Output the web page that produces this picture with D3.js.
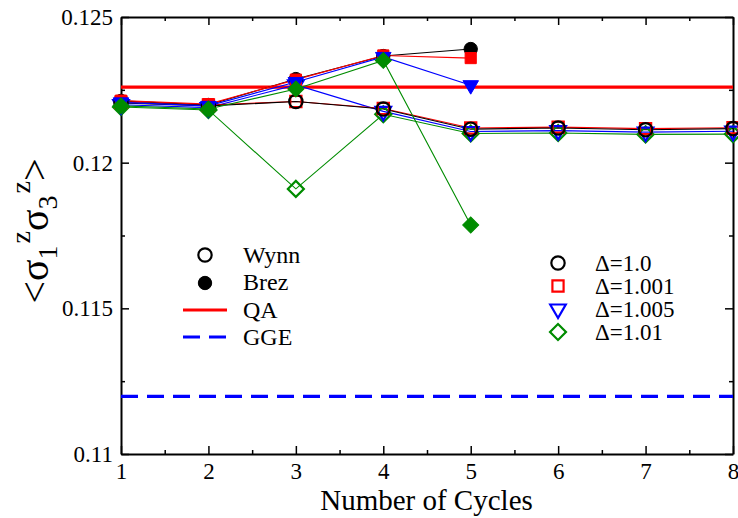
<!DOCTYPE html>
<html>
<head>
<meta charset="utf-8">
<script src="https://cdn.jsdelivr.net/npm/d3@7"></script>
<style>
  body { margin: 0; background: #fff; }
  svg text { font-family: "Liberation Serif", "LiberationSerif", "DejaVu Serif", "Noto Serif", "FreeSerif", "Times New Roman", Times, serif; }
</style>
</head>
<body>
<div class="chart"></div>
<script>
// cycles on the x axis
const cycles = [1, 2, 3, 4, 5, 6, 7, 8];
const brezCycles = [1, 2, 3, 4, 5];

// Wynn extrapolation (open symbols)
const wynn10   = [0.12205, 0.12195, 0.12210, 0.12184, 0.12115, 0.12119, 0.12113, 0.12117];
const wynn1001 = [0.12208, 0.12198, 0.12210, 0.12186, 0.12119, 0.12122, 0.12117, 0.12120];
const wynn1005 = [0.12199, 0.12189, 0.12267, 0.12176, 0.12107, 0.12110, 0.12105, 0.12108];
const wynn101  = [0.12191, 0.12181, 0.11910, 0.12166, 0.12100, 0.12102, 0.12097, 0.12098];

// Brezinski extrapolation (filled symbols)
const brez10   = [0.12212, 0.12198, 0.12287, 0.12366, 0.12390];
const brez1001 = [0.12213, 0.12201, 0.12285, 0.12368, 0.12359];
const brez1005 = [0.12207, 0.12195, 0.12277, 0.12363, 0.12266];
const brez101  = [0.12195, 0.12184, 0.12253, 0.12351, 0.11786];

// reference levels
const qaValue = 0.12259;
const ggeValue = 0.11198;

const deltaLabels = ["\u0394=1.0", "\u0394=1.001", "\u0394=1.005", "\u0394=1.01"];
const colors = ["#000000", "#ff0000", "#0000ff", "#008c00"];
const shapes = ["circle", "square", "triangle", "diamond"];

const xTicks = [1, 2, 3, 4, 5, 6, 7, 8];
const xMinor = [1.5, 2.5, 3.5, 4.5, 5.5, 6.5, 7.5];
const yTicks = [0.11, 0.115, 0.12, 0.125];
const yMinor = [0.1125, 0.1175, 0.1225];
const yTickLabels = ["0.11", "0.115", "0.12", "0.125"];

const width = 738, height = 518;
const mLeft = 121, mRight = 733, mTop = 17, mBottom = 454;
const serif = "Liberation Serif, LiberationSerif, DejaVu Serif, Noto Serif, FreeSerif, Times New Roman, Times, serif";

const svg = d3.select('.chart')
  .append('svg')
  .attr('width', width)
  .attr('height', height)
  .attr('font-family', serif);

const x = d3.scaleLinear().domain([1, 8]).range([mLeft, mRight]);
const y = d3.scaleLinear().domain([0.11, 0.125]).range([mBottom, mTop]);

// symbol generator
function shapePath(shape) {
  if (shape == "circle") return d3.symbol(d3.symbolCircle, 140)();
  if (shape == "square") return d3.symbol(d3.symbolSquare, 125)();
  if (shape == "triangle") return d3.symbol(d3.symbolTriangle, 105)();
  return d3.symbol(d3.symbolSquare, 128)();
}
function shapeRotate(shape) {
  if (shape == "triangle") return " rotate(180)";
  if (shape == "diamond") return " rotate(45)";
  return "";
}

// axes (ticks inward on all four sides)
function styleAxis(g) {
  g.attr("font-family", serif);
  g.selectAll("path.domain").attr("stroke-width", 2);
  g.selectAll(".tick line").attr("stroke-width", 1.5);
  g.selectAll("text")
    .attr("font-family", serif)
    .attr("font-size", 23)
    .attr("fill", "#000");
}

svg.append("g")
  .attr("transform", `translate(0,${mBottom})`)
  .call(d3.axisBottom(x).tickValues(xTicks).tickFormat(d3.format("d"))
    .tickSizeInner(-8).tickSizeOuter(0).tickPadding(9))
  .call(styleAxis);
svg.append("g")
  .attr("transform", `translate(0,${mBottom})`)
  .call(d3.axisBottom(x).tickValues(xMinor).tickFormat("")
    .tickSizeInner(-4).tickSizeOuter(0))
  .call(g => g.select(".domain").remove())
  .call(styleAxis);

svg.append("g")
  .attr("transform", `translate(0,${mTop})`)
  .call(d3.axisTop(x).tickValues(xTicks).tickFormat("")
    .tickSizeInner(-8).tickSizeOuter(0))
  .call(styleAxis);
svg.append("g")
  .attr("transform", `translate(0,${mTop})`)
  .call(d3.axisTop(x).tickValues(xMinor).tickFormat("")
    .tickSizeInner(-4).tickSizeOuter(0))
  .call(g => g.select(".domain").remove())
  .call(styleAxis);

svg.append("g")
  .attr("transform", `translate(${mLeft},0)`)
  .call(d3.axisLeft(y).tickValues(yTicks).tickFormat((d, i) => yTickLabels[i])
    .tickSizeInner(-8).tickSizeOuter(0).tickPadding(8))
  .call(styleAxis);
svg.append("g")
  .attr("transform", `translate(${mLeft},0)`)
  .call(d3.axisLeft(y).tickValues(yMinor).tickFormat("")
    .tickSizeInner(-4).tickSizeOuter(0))
  .call(g => g.select(".domain").remove())
  .call(styleAxis);

svg.append("g")
  .attr("transform", `translate(${mRight},0)`)
  .call(d3.axisRight(y).tickValues(yTicks).tickFormat("")
    .tickSizeInner(-8).tickSizeOuter(0))
  .call(styleAxis);
svg.append("g")
  .attr("transform", `translate(${mRight},0)`)
  .call(d3.axisRight(y).tickValues(yMinor).tickFormat("")
    .tickSizeInner(-4).tickSizeOuter(0))
  .call(g => g.select(".domain").remove())
  .call(styleAxis);

// reference lines
svg.append("line")
  .attr("x1", x(1)).attr("x2", x(8))
  .attr("y1", y(qaValue)).attr("y2", y(qaValue))
  .attr("stroke", "#ff0000").attr("stroke-width", 3.2);
svg.append("line")
  .attr("x1", x(1)).attr("x2", x(8))
  .attr("y1", y(ggeValue)).attr("y2", y(ggeValue))
  .attr("stroke", "#0000ff").attr("stroke-width", 3.2)
  .attr("stroke-dasharray", "17,9");

// series: Wynn drawn green..black so black circles sit on top
const wynnSets = [wynn10, wynn1001, wynn1005, wynn101];
const brezSets = [brez10, brez1001, brez1005, brez101];

let series = [];
[3, 2, 1, 0].forEach(function(i) {
  const vals = wynnSets[i];
  series.push({ pts: vals.map((v, j) => [cycles[j], v]), color: colors[i], shape: shapes[i], filled: false });
});
brezSets.forEach(function(vals, i) {
  series.push({ pts: vals.map((v, j) => [brezCycles[j], v]), color: colors[i], shape: shapes[i], filled: true });
});

const line = d3.line().x(d => x(d[0])).y(d => y(d[1]));

svg.selectAll(".serieLine")
  .data(series)
  .enter()
  .append("path")
  .attr("class", "serieLine")
  .attr("d", d => line(d.pts))
  .attr("fill", "none")
  .attr("stroke", d => d.color)
  .attr("stroke-width", 1.1);

series.forEach(function(s) {
  svg.selectAll(null)
    .data(s.pts)
    .enter()
    .append("path")
    .attr("d", shapePath(s.shape))
    .attr("transform", d => `translate(${x(d[0])},${y(d[1])})` + shapeRotate(s.shape))
    .attr("fill", s.filled ? s.color : "none")
    .attr("stroke", s.color)
    .attr("stroke-width", s.filled ? 1 : 2.2);
});

// left legend
const legL = svg.append("g");
legL.append("path").attr("d", shapePath("circle"))
  .attr("transform", "translate(205,255)")
  .attr("fill", "none").attr("stroke", "#000").attr("stroke-width", 2.2);
legL.append("path").attr("d", shapePath("circle"))
  .attr("transform", "translate(205,283)")
  .attr("fill", "#000").attr("stroke", "#000");
legL.append("line").attr("x1", 183).attr("x2", 227).attr("y1", 310).attr("y2", 310)
  .attr("stroke", "#ff0000").attr("stroke-width", 3.2);
legL.append("line").attr("x1", 183).attr("x2", 227).attr("y1", 337).attr("y2", 337)
  .attr("stroke", "#0000ff").attr("stroke-width", 3.2).attr("stroke-dasharray", "17,9");
legL.selectAll("text")
  .data(["Wynn", "Brez", "QA", "GGE"])
  .enter()
  .append("text")
  .attr("x", 243)
  .attr("y", (d, i) => 263 + i * 27.3)
  .attr("font-size", 24)
  .text(d => d);

// right legend
const legR = svg.append("g");
deltaLabels.forEach(function(lab, i) {
  const ry = 263 + i * 23;
  legR.append("path").attr("d", shapePath(shapes[i]))
    .attr("transform", `translate(558,${ry})` + shapeRotate(shapes[i]))
    .attr("fill", "none").attr("stroke", colors[i]).attr("stroke-width", 2.2);
  legR.append("text")
    .attr("x", 595)
    .attr("y", ry + 8)
    .attr("font-size", 23)
    .text(lab);
});

// axis titles
svg.append("text")
  .attr("x", (mLeft + mRight) / 2 - 0.5)
  .attr("y", 510)
  .attr("text-anchor", "middle")
  .attr("font-size", 29)
  .text("Number of Cycles");

const yl = svg.append("text")
  .attr("transform", "translate(48,231) rotate(-90)")
  .attr("text-anchor", "middle")
  .attr("font-size", 40);
yl.append("tspan").text("<\u03c3");
yl.append("tspan").attr("font-size", 28).attr("dy", 9).text("1");
yl.append("tspan").attr("font-size", 28).attr("dy", -27).attr("dx", 2).text("z");
yl.append("tspan").attr("dy", 18).text("\u03c3");
yl.append("tspan").attr("font-size", 28).attr("dy", 9).text("3");
yl.append("tspan").attr("font-size", 28).attr("dy", -27).attr("dx", 2).text("z");
yl.append("tspan").attr("dy", 18).text(">");
</script>
</body>
</html>
